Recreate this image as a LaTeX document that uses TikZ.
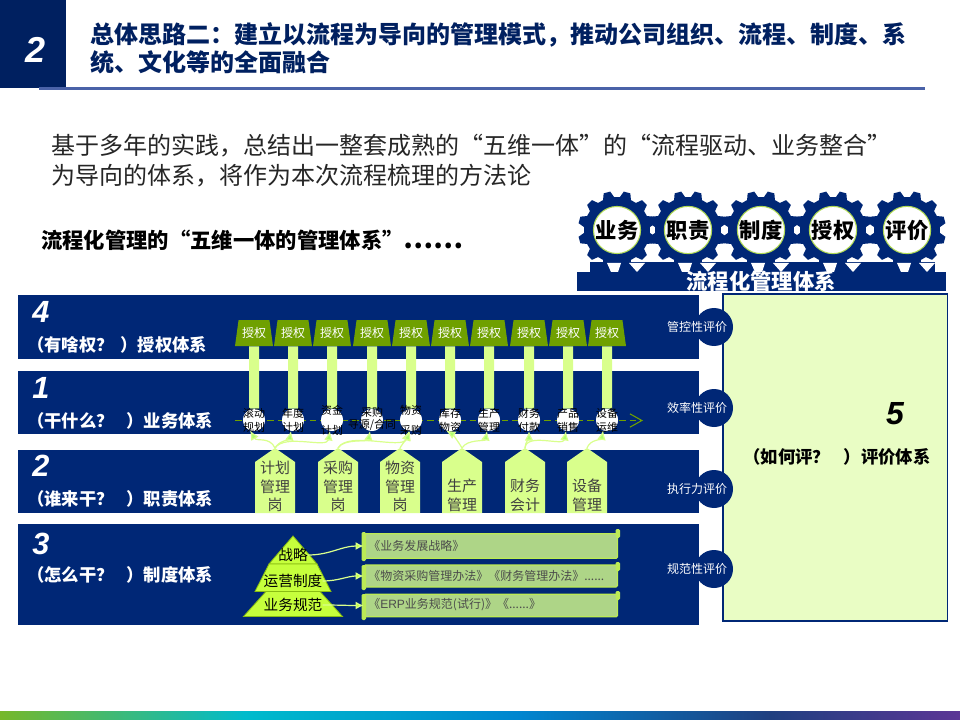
\documentclass[tikz,border=0pt]{standalone}
\usepackage{fontspec}
\setmainfont{Noto Sans CJK SC}
\newfontfamily\latinfont{Liberation Sans}
\usetikzlibrary{arrows.meta,shapes.geometric}
\definecolor{navy}{HTML}{002776}
\definecolor{deepnavy}{HTML}{002060}
\definecolor{rulec}{HTML}{4A62A8}
\definecolor{limebar}{HTML}{D9FF8C}
\definecolor{oliveg}{HTML}{6FA000}
\definecolor{evalfill}{HTML}{E9FDC4}
\definecolor{scrollfill}{HTML}{AED587}
\definecolor{scrolledge}{HTML}{BCEB55}
\definecolor{pyr}{HTML}{C6FF3C}
\definecolor{gradA}{HTML}{76B82A}
\definecolor{gradB}{HTML}{00BBCC}
\definecolor{gradC}{HTML}{0085CF}
\definecolor{gradD}{HTML}{1F3F80}
\definecolor{gradE}{HTML}{5C3696}
\tikzset{
  rowtext/.style={text=white,anchor=west,inner sep=0,font=\fontsize{13pt}{15pt}\selectfont\bfseries},
  rownum/.style={text=white,inner sep=0,font=\fontsize{23pt}{23pt}\latinfont\bfseries\itshape},
  trapz/.style={trapezium,trapezium left angle=76,trapezium right angle=76,trapezium stretches=true,
     minimum width=28.5pt,minimum height=19.5pt,fill=oliveg,text=white,inner sep=0,font=\fontsize{9pt}{9pt}\selectfont},
  pillar/.style={draw=limebar,line width=7.5pt},
  disc/.style={circle,fill=white,minimum size=16.5pt,inner sep=0},
  disctext/.style={text=black,align=center,inner sep=0,font=\fontsize{8.2pt}{#1}\selectfont},
  tag/.style={text=black!75,align=center,inner sep=0,font=\fontsize{11.2pt}{14pt}\selectfont},
  tagshape/.style={fill=limebar},
  evalc/.style={circle,fill=navy,minimum size=28.5pt,inner sep=0},
  evalt/.style={text=white,inner sep=0,font=\fontsize{9pt}{9pt}\selectfont},
  scrolltext/.style={text=black!70,anchor=west,inner sep=0,font=\fontsize{9pt}{10pt}\selectfont},
  scrollbox/.style={fill=scrollfill,draw=scrolledge,line width=0.9pt,rounded corners=1pt,anchor=west,minimum width=190pt,inner sep=0},
  pyrshape/.style={fill=pyr,draw=oliveg!70!pyr,line width=0.6pt},
  pyrtext/.style={text=black,inner sep=0,font=\fontsize{11pt}{11pt}\selectfont},
  flow/.style={draw=limebar,line width=0.9pt,-{Latex[length=6pt,width=6pt,fill=pyr]}},
  lnk/.style={draw=limebar,line width=0.9pt,-{Latex[length=7pt,width=6.5pt,fill=limebar!80!green]}},
  gearlabel/.style={circle,fill=white,draw=limebar!60!oliveg,line width=0.8pt,minimum size=32pt,inner sep=0,font=\fontsize{16pt}{16pt}\selectfont\bfseries}
}
\newcommand{\mygear}[3]{%
  \fill[navy,shift={(#1,#2)}]
  (5:33) \foreach \a in {0,30,...,330}{
    -- ({\a+5}:33) -- ({\a+10}:39) -- ({\a+20}:39) -- ({\a+25}:33)
  } -- cycle;
  \fill[white] ({#1-10},263) -- ({#1+4},263) -- ({#1+1},272) -- ({#1-6},272) -- cycle;
  \fill[white] ({#1+12},263) -- ({#1+28},263) -- ({#1+20},272) -- cycle;
  \node[gearlabel] at (#1,#2) {#3};}
\begin{document}
\begin{tikzpicture}[x=0.75pt,y=-0.75pt]
\useasboundingbox (0,0) rectangle (960,720);
\fill[white] (0,0) rectangle (960,720);
% header
\fill[deepnavy] (0,0) rectangle (66,88);
\fill[rulec] (39,87.5) rectangle (925,90.5);
\node[text=white,inner sep=0,font=\fontsize{27pt}{27pt}\latinfont\bfseries\itshape] (hnum) at (36,50) {2};
\node[anchor=west,inner sep=0,text=deepnavy,align=left,font=\fontsize{18pt}{21pt}\selectfont\bfseries] (title) at (90,48)
  {总体思路二：建立以流程为导向的管理模式，推动公司组织、流程、制度、系\\统、文化等的全面融合};
\node[anchor=west,inner sep=0,text=black!85,align=left,font=\fontsize{18pt}{22.5pt}\selectfont] (intro) at (51,161)
  {基于多年的实践，总结出一整套成熟的“五维一体”的“流程驱动、业务整合”\\为导向的体系，将作为本次流程梳理的方法论};
\node[anchor=west,inner sep=0,text=black,font=\fontsize{16pt}{18pt}\selectfont\bfseries] (sub) at (41,240)
  {流程化管理的“五维一体的管理体系”{\fontsize{20pt}{18pt}\selectfont ……}};
% gears and band
\fill[navy] (577,272) rectangle (946,291);
\fill[navy] (590,262) rectangle (935,272);
\mygear{617}{230}{业务}
\mygear{688}{230}{职责}
\mygear{761}{230}{制度}
\mygear{833}{230}{授权}
\mygear{907}{230}{评价}
\begin{scope}
\clip (577,262) rectangle (946,291);
\node[text=white,inner sep=0,font=\fontsize{16pt}{16pt}\selectfont\bfseries] (band) at (761,281) {流程化管理体系};
\end{scope}
% rows
\fill[navy] (18,295) rectangle (699,359);
\fill[navy] (18,371) rectangle (699,434);
\fill[navy] (18,450) rectangle (699,513);
\fill[navy] (18,524) rectangle (699,625);
\node[rownum] (n4) at (41,312) {4};
\node[rowtext] (r4) at (27,345) {（有啥权？\hspace{2pt} ）授权体系};
\node[rowtext] (r1) at (27,421) {（干什么？\hspace{6.5pt} ）业务体系};
\node[rownum] (n1) at (41,388) {1};
\node[rownum] (n2) at (41,466) {2};
\node[rowtext] (r2) at (27,499) {（谁来干？\hspace{6.5pt} ）职责体系};
\node[rownum] (n3) at (41,544) {3};
\node[rowtext] (r3) at (27,575) {（怎么干？\hspace{6.5pt} ）制度体系};
% evaluation box
\draw[draw=navy,fill=evalfill,line width=0.9pt] (723,294) rectangle (947.5,621);
\node[inner sep=0,text=black,font=\fontsize{24pt}{24pt}\latinfont\bfseries\itshape] (five) at (895,414) {5};
\node[inner sep=0,text=black,font=\fontsize{13pt}{15pt}\selectfont\bfseries] (evalname) at (837,457) {（如何评？\hspace{7.5pt} ）评价体系};
\foreach \y/\t in {327/管控性评价,408/效率性评价,489/执行力评价,569/规范性评价}{
  \node[evalc] at (714,\y) {};
  \node[evalt] at (697,\y) {\t};
}
% trapezoids, discs, pillars
\foreach \i/\x in {1/254,2/293,3/332,4/372,5/411,6/450,7/489,8/529,9/568,10/607}{
  \node[trapz] (t\i) at (\x,333) {授权};
  \node[disc] (c\i) at (\x,420) {};
  \draw[pillar] (t\i.south) -- (c\i.north);
}
\coordinate (da) at (235,420.5);
\coordinate (db) at (643,420.5);
\draw[oliveg,line width=0.8pt,dash pattern=on 5pt off 3pt,-{Straight Barb[length=9pt,width=10pt]}] (da) -- (db);
\foreach \i/\x in {1/254,2/293,3/332,4/372,5/411,6/450,7/489,8/529,9/568,10/607}{
  \node[disc] at (\x,420) {};
}
\node[disctext=10.5pt] at (254,420) {滚动\\规划};
\node[disctext=10.5pt] at (293,420) {年度\\计划};
\node[disctext=15pt] at (332,420) {资金\\计划};
\node[disctext=9.5pt] at (372,419) {采购\\寻源/合同};
\node[disctext=15pt] at (411,420) {物资\\采购};
\node[disctext=10.5pt] at (450,420) {库存\\物资};
\node[disctext=10.5pt] at (489,420) {生产\\管理};
\node[disctext=10.5pt] at (529,420) {财务\\付款};
\node[disctext=10.5pt] at (568,420) {产品\\销售};
\node[disctext=10.5pt] at (607,420) {设备\\运维};
% position tags
\foreach \i/\x in {1/275,2/338,3/400,4/462,5/525,6/587}{
  \fill[tagshape] (\x-20,513) -- (\x-20,462) -- (\x,448) -- (\x+20,462) -- (\x+20,513) -- cycle;
  \coordinate (a\i) at (\x,448);
}
\node[tag] (p1) at (275,486.5) {计划\\管理\\岗};
\node[tag] (p2) at (338,486.5) {采购\\管理\\岗};
\node[tag] (p3) at (400,486.5) {物资\\管理\\岗};
\node[tag] (p4) at (462,495.5) {生产\\管理};
\node[tag] (p5) at (525,495.5) {财务\\会计};
\node[tag] (p6) at (587,495.5) {设备\\管理};
% curved links
\draw[lnk] (a1) to[out=115,in=-60,looseness=1.1] (c1.-110);
\draw[lnk] (a1) to[out=60,in=-100] (c2.-100);
\draw[lnk] (a1) to[out=55,in=-100,looseness=.8] (c3.-100);
\draw[lnk] (a2) to[out=60,in=-100,looseness=.8] (c4.-100);
\draw[lnk] (a2) to[out=60,in=-110,looseness=.7] (c5.-100);
\draw[lnk] (a3) to[out=60,in=-110] (c5.-95);
\draw[lnk] (a4) to[out=120,in=-30,looseness=.8] (c6.-110);
\draw[lnk] (a4) to[out=60,in=-100,looseness=.9] (c7.-100);
\draw[lnk] (a5) to[out=85,in=-90] (c8.-90);
\draw[lnk] (a5) to[out=85,in=-100,looseness=.9] (c9.-100);
\draw[lnk] (a6) to[out=70,in=-100] (c10.-110);
% pyramid
\draw[pyrshape] (293,536) -- (317,564) -- (269,564) -- cycle;
\draw[pyrshape] (269,564) -- (317,564) -- (331,591.5) -- (255,591.5) -- cycle;
\draw[pyrshape] (266,591.5) -- (320,591.5) -- (342.5,616.5) -- (243.5,616.5) -- cycle;
\node[pyrtext] (y1) at (293,555) {战略};
\node[pyrtext] (y2) at (293,581) {运营制度};
\node[pyrtext] (y3) at (293,605) {业务规范};
% scrolls
\node[scrollbox,minimum height=18.5pt] (s1) at (363.5,546) {};
\node[scrollbox,minimum height=16.5pt] (s2) at (363.5,576) {};
\node[scrollbox,minimum height=17pt] (s3) at (363.5,605.5) {};
\foreach \n/\top/\bot in {s1/532/558,s2/565/587,s3/594/617}{
  \fill[scrolledge,rounded corners=1pt] (361.5,\top) rectangle (366,\bot+3);
  \fill[scrolledge,rounded corners=1pt] (615.5,\top-3) rectangle (620,\top+6);
}
\node[scrolltext] at (368,546) {《业务发展战略》};
\node[scrolltext] at (368,576) {《物资采购管理办法》《财务管理办法》......};
\node[scrolltext] at (368,605) {《\latinfont ERP\rmfamily 业务规范(试行)》《......》};
\draw[flow] (y1.east) to[out=0,in=180] (s1.west);
\draw[flow] (y2.east) to[out=0,in=180] (s2.west);
\draw[flow] (y3.east) to[out=0,in=180] (s3.west);
% footer gradient
\shade[left color=gradA,right color=gradB,draw=none] (0,711) rectangle (245,720);
\shade[left color=gradB,right color=gradC,draw=none] (245,711) rectangle (520,720);
\shade[left color=gradC,right color=gradD,draw=none] (520,711) rectangle (770,720);
\shade[left color=gradD,right color=gradE,draw=none] (770,711) rectangle (960,720);
\end{tikzpicture}
\end{document}
